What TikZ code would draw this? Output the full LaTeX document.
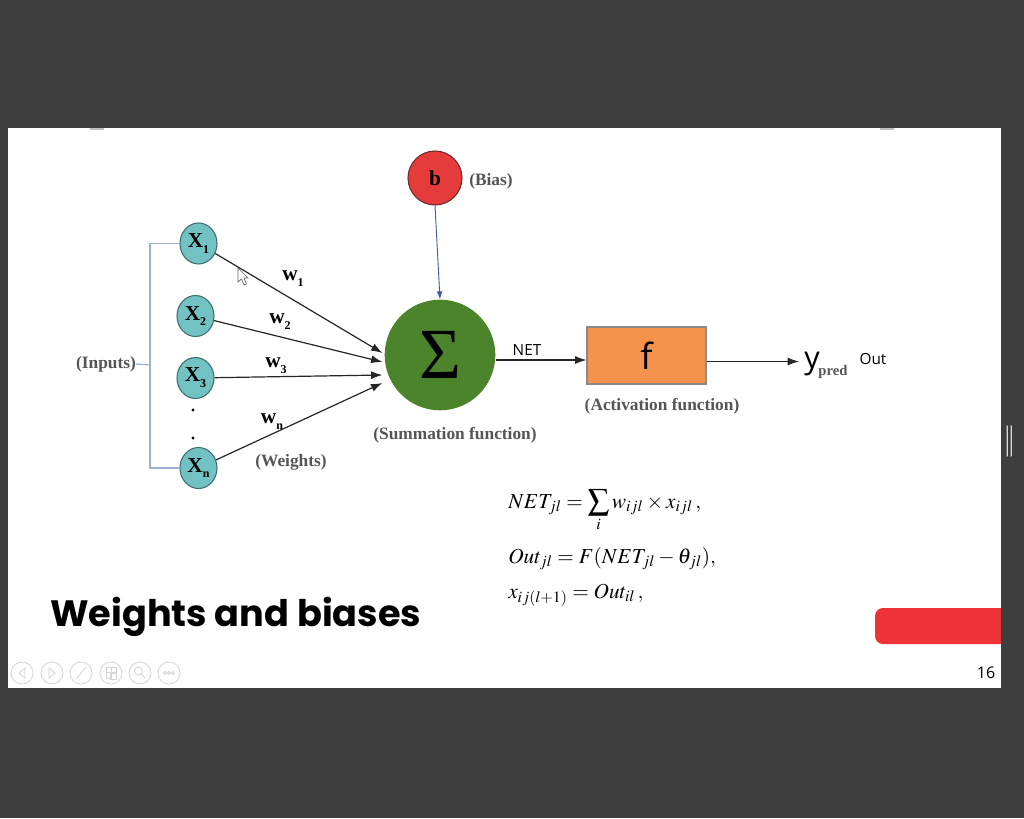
\documentclass[tikz,border=0pt]{standalone}
\usepackage{mathptmx}
\usepackage[no-math]{fontspec}
\setmainfont{Liberation Serif}
\newfontfamily\poppins{Poppins}
\newfontfamily\osans{Open Sans}
\usetikzlibrary{shapes.geometric,arrows.meta,calc}
\definecolor{bgdark}{HTML}{3E3E3E}
\definecolor{tealx}{HTML}{72C2C4}
\definecolor{tealborder}{HTML}{3F6E70}
\definecolor{biasred}{HTML}{E53B3B}
\definecolor{biasborder}{HTML}{6E2B2B}
\definecolor{sumgreen}{HTML}{4C842B}
\definecolor{actorange}{HTML}{F5934C}
\definecolor{boxgray}{HTML}{8A8A8A}
\definecolor{labelgray}{HTML}{555555}
\definecolor{brkblue}{HTML}{9DB1D2}
\definecolor{biasblue}{HTML}{3D5FA6}
\definecolor{slidered}{HTML}{EE3338}
\definecolor{navgray}{HTML}{D4D4D4}
\newcommand{\fsz}[1]{\fontsize{#1}{#1}\selectfont}
\newcommand{\xlab}[1]{\fsz{16}\bfseries X\raisebox{-0.6ex}{\fsz{9}\bfseries #1}}
\newcommand{\wlab}[1]{\fsz{16}\bfseries w\raisebox{-0.6ex}{\fsz{9}\bfseries #1}}
\begin{document}
\begin{tikzpicture}[x=0.75pt,y=-0.75pt,
  xnode/.style={ellipse, draw=tealborder, line width=0.8pt, fill=tealx, minimum width=27.75pt, minimum height=30.75pt, inner sep=0pt, text=black},
  arr/.style={-{Latex[length=8.5pt,width=6pt]}, draw=black!85, line width=0.9pt},
  biasarr/.style={-{Latex[length=6pt,width=4.5pt]}, draw=biasblue, line width=0.7pt},
  brk/.style={draw=brkblue, line width=0.9pt},
  lab/.style={font=\fsz{13}\bfseries, text=labelgray, inner sep=0pt},
  wl/.style={inner sep=0pt, text=black},
  sans/.style={font=\osans\fsz{11.5}, inner sep=0pt},
  eqn/.style={anchor=base west, inner sep=0pt, font=\fsz{16}},
  nav/.style={draw=navgray, line width=0.6pt}
]
\useasboundingbox (0,0) rectangle (1024,818);
\fill[bgdark] (0,0) rectangle (1024,818);
\fill[white] (8,128) rectangle (1001,688);
% small edge marks
\fill[black!25] (90,128) rectangle (104,130);
\fill[black!25] (880,128) rectangle (894,130);
\fill[black!55] (1006,425) rectangle (1008,457);
\fill[black!55] (1010,425) rectangle (1012,457);
\fill[black!15] (1006.5,426) rectangle (1007.5,456);
\fill[black!15] (1010.5,426) rectangle (1011.5,456);

% bias
\node[circle, draw=biasborder, line width=0.8pt, fill=biasred, minimum size=40.5pt, inner sep=0pt, font=\fsz{16}\bfseries] (b) at (435,178) {b};
\node[lab] (biaslab) at (491,181) {(Bias)};

% summation
\node[circle, fill=sumgreen, minimum size=83pt, inner sep=0pt, font=\fsz{54}] (sig) at (440,355) {Σ};
\node[lab] (sumlab) at (455,435) {(Summation function)};
\draw[biasarr] (b.south) -- (sig.north);

% inputs
\node[xnode] (x1) at (198.5,243.5) {\xlab{1}};
\node[xnode] (x2) at (195.5,316) {\xlab{2}};
\node[xnode] (x3) at (195.5,378) {\xlab{3}};
\node[xnode] (xn) at (198.5,468) {\xlab{n}};
\fill (193,410) circle (1.7);
\fill (193,438) circle (1.7);
\node[lab] (inputs) at (106,364) {(Inputs)};
\draw[brk] (x1.west) -| (150,365) |- (xn.west);
\draw[brk] (inputs.east) -- (150,365);

% weighted connectors
\draw[arr] (x1) -- ([xshift=-1.5pt,yshift=1.5pt]sig.west);
\draw[arr] (x2) -- ([xshift=-1.5pt,yshift=-5.25pt]sig.west);
\draw[arr] (x3) -- ([xshift=-1.5pt,yshift=-15pt]sig.west);
\draw[arr] (xn) -- ([xshift=-1.5pt,yshift=-21pt]sig.west);
\node[wl] (w1) at (293,279) {\wlab{1}};
\node[wl] (w2) at (280,322) {\wlab{2}};
\node[wl] (w3) at (276,366) {\wlab{3}};
\node[wl] (wn) at (272,422) {\wlab{n}};
\node[lab] (weights) at (291,462) {(Weights)};

% cursor
\draw[black!60, fill=white, line width=0.5pt] (238,268) -- (238,282) -- (241.5,279) -- (244,285) -- (246.5,284) -- (244,278) -- (248,278) -- cycle;

% activation
\node[rectangle, draw=boxgray, line width=0.8pt, fill=actorange, minimum width=89.25pt, minimum height=42.75pt, inner sep=0pt, font=\osans\fsz{27}] (fbox) at (646.5,355.5) {f};
\node[lab] (actlab) at (662,406) {(Activation function)};
\path ([yshift=-3.75pt]sig.east) coordinate (sout);
\draw[arr] (sout) -- (sout -| fbox.west);
\node[sans] (net) at (527,350) {NET};

\node[anchor=base west, inner xsep=3.75pt, inner ysep=0pt] (yp) at (799,368) {\osans\fsz{23}y\hspace{-1pt}\raisebox{-0.45ex}{\rmfamily\bfseries\fsz{11}\color{labelgray}pred}};
\path ([yshift=-4.5pt]fbox.east) coordinate (fout);
\draw[arr] (fout) -- (fout -| yp.west);
\node[sans] (outlab) at (873,359) {Out};

% equations
\node[eqn] (eq1) at (508,508) {$\displaystyle NET_{jl}=\sum_{i} w_{ijl}\times x_{ijl}\,,$};
\node[eqn] (eq2) at (508,563) {$Out_{jl}=F(NET_{jl}-\theta_{jl}),$};
\node[eqn] (eq3) at (508,598) {$x_{ij(l+1)}=Out_{il}\,,$};

% title
\node[anchor=west, inner sep=0pt, font=\poppins\bfseries\fsz{27.5}] (title) at (50,617) {Weights and biases};
\fill[slidered, rounded corners=6pt] (875,608) rectangle (1012,644);
\fill[bgdark] (1001,600) rectangle (1014,650);

% page number
\node[font=\osans\fsz{12}, inner sep=0pt] (pnum) at (986,673) {16};

% navigation icons
\foreach \cx in {22,52,81,111,140,169}{\draw[nav] (\cx,673) circle (11);}
\draw[nav] (25,668) -- (19,673) -- (25,678) -- cycle;
\draw[nav] (49,668) -- (55,673) -- (49,678) -- cycle;
\draw[nav] (76,679) -- (86,667);
\draw[nav] (106,667) rectangle (111,672) (111,667) rectangle (116,672) (106,672) rectangle (111,678) (110,673) rectangle (116,679);
\draw[nav] (138.5,671) circle (4);
\draw[nav] (141.5,674) -- (145,678);
\foreach \dx in {-4,0,4}{\draw[nav] (169+\dx,673) circle (1.5);}
\end{tikzpicture}
\end{document}
